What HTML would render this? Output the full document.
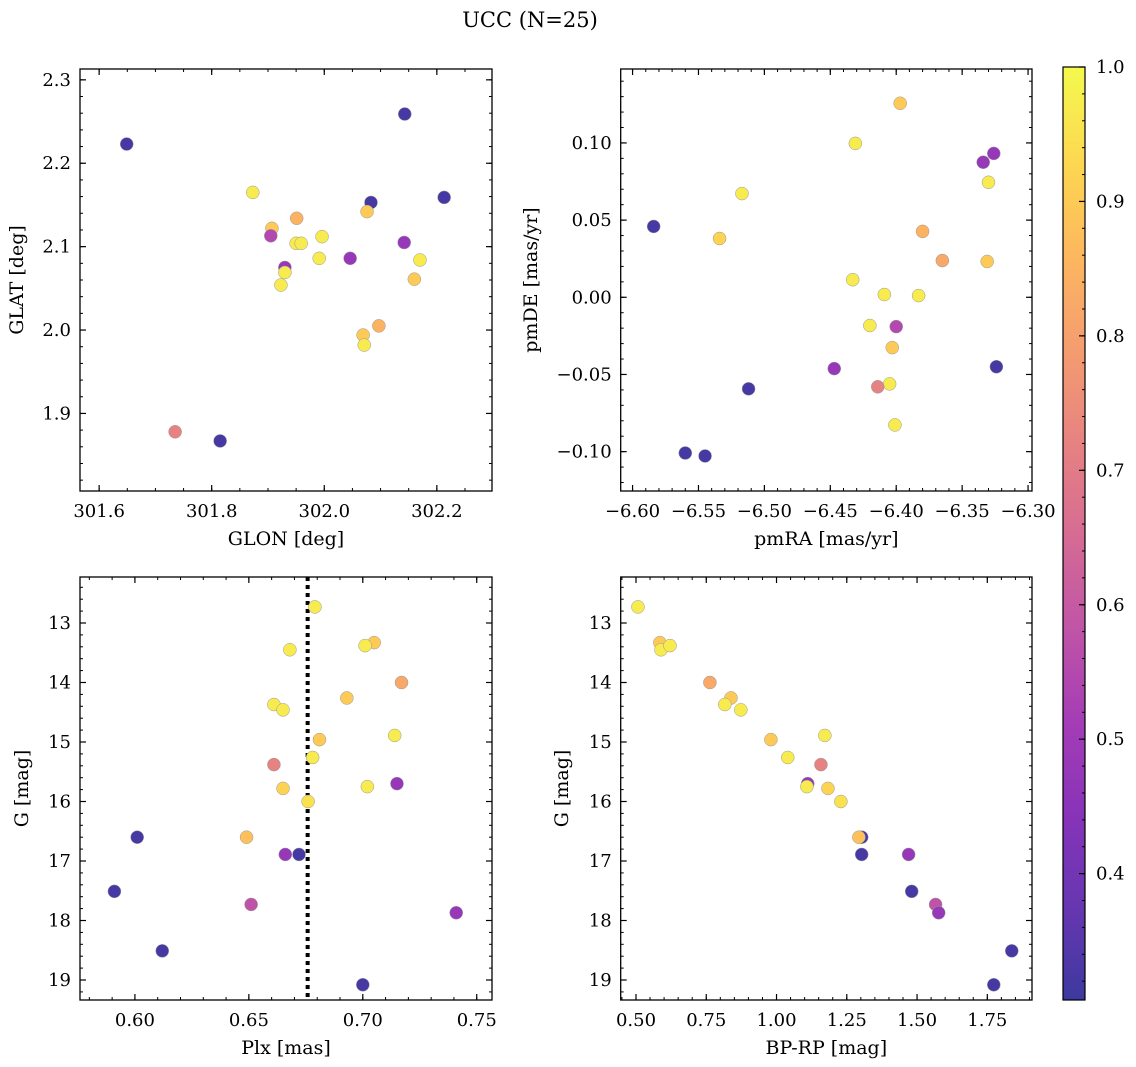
<!DOCTYPE html>
<html><head><meta charset="utf-8"><style>
html,body{margin:0;padding:0;background:#fff;}
svg{display:block;font-family:"DejaVu Serif","Liberation Serif",serif;}
</style></head><body>
<svg id="fig" width="1136" height="1067" viewBox="0 0 1136 1067" xmlns="http://www.w3.org/2000/svg">
<text x="530" y="27" font-size="21" text-anchor="middle">UCC (N=25)</text>
</svg>
<script>
// ---- data ----
const p1Glon=[301.649,302.143,301.735,301.815,301.873,301.907,301.905,301.930,301.930,301.923,301.951,301.950,301.959,301.991,301.996,302.046,302.083,302.076,302.213,302.142,302.170,302.160,302.069,302.071,302.097];
const p1Glat=[2.223,2.259,1.878,1.867,2.165,2.122,2.113,2.075,2.069,2.054,2.134,2.104,2.104,2.086,2.112,2.086,2.153,2.142,2.159,2.105,2.084,2.061,1.994,1.982,2.005];
const p1C=[0.32,0.32,0.72,0.32,0.97,0.9,0.55,0.48,0.97,0.97,0.85,0.97,0.97,0.97,0.97,0.48,0.32,0.9,0.32,0.48,0.97,0.9,0.9,0.97,0.85];
const p2Ra=[-6.584,-6.431,-6.397,-6.517,-6.534,-6.334,-6.326,-6.330,-6.380,-6.365,-6.331,-6.433,-6.409,-6.383,-6.420,-6.400,-6.403,-6.447,-6.324,-6.405,-6.414,-6.512,-6.401,-6.560,-6.545];
const p2De=[0.0459,0.0997,0.1257,0.0672,0.0381,0.0875,0.0932,0.0745,0.0427,0.0238,0.0232,0.0114,0.0018,0.0011,-0.0183,-0.0190,-0.0326,-0.0462,-0.0450,-0.0561,-0.0580,-0.0593,-0.0827,-0.1009,-0.1028];
const p2C=[0.32,0.97,0.9,0.97,0.92,0.48,0.48,0.97,0.85,0.82,0.9,0.97,0.97,0.97,0.97,0.55,0.9,0.48,0.32,0.97,0.72,0.32,0.97,0.32,0.32];
const p3Plx=[0.679,0.705,0.701,0.668,0.717,0.693,0.661,0.665,0.681,0.714,0.678,0.661,0.715,0.665,0.702,0.676,0.601,0.649,0.666,0.672,0.591,0.651,0.741,0.612,0.700];
const p3G=[12.73,13.33,13.38,13.45,14.00,14.26,14.37,14.46,14.96,14.89,15.26,15.38,15.70,15.78,15.75,16.00,16.60,16.60,16.89,16.89,17.51,17.73,17.87,18.51,19.08];
const p3C=[0.97,0.9,0.97,0.97,0.82,0.9,0.97,0.97,0.9,0.97,0.97,0.72,0.48,0.92,0.97,0.95,0.32,0.88,0.48,0.32,0.32,0.58,0.48,0.32,0.32];
const p4Bprp=[0.507,0.585,0.589,0.621,0.763,0.838,0.816,0.873,0.980,1.172,1.040,1.158,1.111,1.108,1.183,1.229,1.303,1.293,1.470,1.303,1.481,1.566,1.577,1.837,1.773];
const p4G=[12.73,13.33,13.45,13.38,14.00,14.26,14.37,14.46,14.96,14.89,15.26,15.38,15.70,15.75,15.78,16.00,16.60,16.60,16.89,16.89,17.51,17.73,17.87,18.51,19.08];
const p4C=[0.97,0.9,0.97,0.97,0.82,0.9,0.97,0.97,0.9,0.97,0.97,0.72,0.48,0.97,0.92,0.95,0.32,0.88,0.48,0.32,0.32,0.58,0.48,0.32,0.32];
const p1XTicks=[301.6,301.8,302.0,302.2];
const p1YTicks=[1.9,2.0,2.1,2.2,2.3];
const p2XTicks=[-6.60,-6.55,-6.50,-6.45,-6.40,-6.35,-6.30];
const p2YTicks=[-0.10,-0.05,0.00,0.05,0.10];
const p3XTicks=[0.60,0.65,0.70,0.75];
const gTicks=[13,14,15,16,17,18,19];
const p4XTicks=[0.50,0.75,1.00,1.25,1.50,1.75];
const cbTicks=[0.4,0.5,0.6,0.7,0.8,0.9,1.0];
const plxLine=0.6758;

const NS="http://www.w3.org/2000/svg";
const svg=document.getElementById('fig');
const TFS=18, LFS=19;
function mk(tag,attrs,parent){const e=document.createElementNS(NS,tag);for(const k in attrs)e.setAttribute(k,attrs[k]);(parent||svg).appendChild(e);return e;}
const stops=[[13,8,135],[65,4,157],[106,0,168],[143,13,164],[177,42,144],[204,71,120],[225,100,98],[242,132,75],[252,166,54],[252,206,37],[240,249,33]];
const CMIN=0.306,CMAX=1.0;
function cmap(v){let t=(v-CMIN)/(CMAX-CMIN);t=Math.max(0,Math.min(1,t));const f=t*10;const i=Math.min(9,Math.floor(f));const r=f-i;const a=stops[i],b=stops[i+1];
 const c=[0,1,2].map(k=>a[k]+(b[k]-a[k])*r);return `rgb(${c.map(x=>Math.round(x*0.8+255*0.2)).join(',')})`;}
function fmt(v,d){const s=Math.abs(v).toFixed(d);return (v<-1e-9?'−':'')+s;}

function panel(cfg){
 const {name,x0,x1,y0,y1,xmin,xmax,ymin,ymax,xt,yt,xminor,yminor,xd,yd,xs,ys,cs,xlabel,ylabel,ylx,inv}=cfg;
 const g=mk('g',{});
 
 
 const sx=v=>x0+(v-xmin)/(xmax-xmin)*(x1-x0);
 const sy=inv?(v=>y0+(v-ymin)/(ymax-ymin)*(y1-y0)):(v=>y1-(v-ymin)/(ymax-ymin)*(y1-y0));
 const lo=Math.ceil(xmin/xminor-1e-6),hi=Math.floor(xmax/xminor+1e-6);
 for(let i=lo;i<=hi;i++){const X=sx(i*xminor);mk('line',{x1:X,x2:X,y1:y1,y2:y1-3,stroke:'#000','stroke-width':1},g);mk('line',{x1:X,x2:X,y1:y0,y2:y0+3,stroke:'#000','stroke-width':1},g);}
 const ylo=Math.ceil(ymin/yminor-1e-6),yhi=Math.floor(ymax/yminor+1e-6);
 for(let i=ylo;i<=yhi;i++){const Y=sy(i*yminor);mk('line',{x1:x0,x2:x0+3,y1:Y,y2:Y,stroke:'#000','stroke-width':1},g);mk('line',{x1:x1,x2:x1-3,y1:Y,y2:Y,stroke:'#000','stroke-width':1},g);}
 xt.forEach(v=>{const X=sx(v);mk('line',{x1:X,x2:X,y1:y1,y2:y1-6,stroke:'#000','stroke-width':1.2},g);mk('line',{x1:X,x2:X,y1:y0,y2:y0+6,stroke:'#000','stroke-width':1.2},g);
  const t=mk('text',{x:X,y:y1+26,'font-size':TFS,'text-anchor':'middle'},g);t.textContent=fmt(v,xd);
  
  });
 yt.forEach(v=>{const Y=sy(v);mk('line',{x1:x0,x2:x0+6,y1:Y,y2:Y,stroke:'#000','stroke-width':1.2},g);mk('line',{x1:x1,x2:x1-6,y1:Y,y2:Y,stroke:'#000','stroke-width':1.2},g);
  const t=mk('text',{x:x0-9,y:Y+6,'font-size':TFS,'text-anchor':'end'},g);t.textContent=fmt(v,yd);
  
  });
 if(cfg.vline!==undefined){const X=sx(cfg.vline);const l=mk('line',{x1:X,x2:X,y1:y0,y2:y1,stroke:'#000','stroke-width':4,'stroke-dasharray':'4,4'},g);
  
  }
 xs.forEach((v,i)=>{const c=mk('circle',{cx:sx(v),cy:sy(ys[i]),r:6.5,fill:cmap(cs[i]),stroke:'#999','stroke-width':0.5},g);
  
  });
 const r=mk('rect',{x:x0,y:y0,width:x1-x0,height:y1-y0,fill:'none',stroke:'#000','stroke-width':1.3},g);
 
 
 const xl=mk('text',{x:(x0+x1)/2,y:y1+54,'font-size':LFS,'text-anchor':'middle'},g);xl.textContent=xlabel;
 
 
 const ym=(y0+y1)/2;const yl=mk('text',{x:ylx,y:ym,'font-size':LFS,'text-anchor':'middle',transform:`rotate(-90 ${ylx} ${ym})`},g);yl.textContent=ylabel;
 
 
}
panel({name:'glon-glat-panel',x0:80,x1:492,y0:69,y1:491,xmin:301.566,xmax:302.298,ymin:1.807,ymax:2.313,xt:p1XTicks,yt:p1YTicks,xminor:0.05,yminor:0.02,xd:1,yd:1,xs:p1Glon,ys:p1Glat,cs:p1C,xlabel:'GLON [deg]',ylabel:'GLAT [deg]',ylx:23});
panel({name:'pm-panel',x0:620.7,x1:1032,y0:69,y1:491,xmin:-6.609,xmax:-6.297,ymin:-0.1255,ymax:0.1479,xt:p2XTicks,yt:p2YTicks,xminor:0.01,yminor:0.01,xd:2,yd:2,xs:p2Ra,ys:p2De,cs:p2C,xlabel:'pmRA [mas/yr]',ylabel:'pmDE [mas/yr]',ylx:537});
panel({name:'plx-g-panel',x0:80,x1:492,y0:577,y1:1000,xmin:0.5759,xmax:0.7567,ymin:12.227,ymax:19.336,inv:true,xt:p3XTicks,yt:gTicks,xminor:0.01,yminor:0.2,xd:2,yd:0,xs:p3Plx,ys:p3G,cs:p3C,xlabel:'Plx [mas]',ylabel:'G [mag]',ylx:28,vline:plxLine});
panel({name:'cmd-panel',x0:620.7,x1:1032,y0:577,y1:1000,xmin:0.4456,xmax:1.909,ymin:12.227,ymax:19.336,inv:true,xt:p4XTicks,yt:gTicks,xminor:0.05,yminor:0.2,xd:2,yd:0,xs:p4Bprp,ys:p4G,cs:p4C,xlabel:'BP-RP [mag]',ylabel:'G [mag]',ylx:568});
(function(){
 const cx0=1063,cx1=1085,cy0=67,cy1=1000;
 const g=mk('g',{});
 
 
 const defs=mk('defs',{},g);const lg=mk('linearGradient',{id:'cbg',x1:0,y1:1,x2:0,y2:0},defs);
 for(let i=0;i<=20;i++){const v=CMIN+(CMAX-CMIN)*i/20;mk('stop',{offset:(i/20),'stop-color':cmap(v)},lg);}
 mk('rect',{x:cx0,y:cy0,width:cx1-cx0,height:cy1-cy0,fill:'url(#cbg)'},g);
 const sy=v=>cy1-(v-CMIN)/(CMAX-CMIN)*(cy1-cy0);
 for(let i=Math.ceil(CMIN/0.02);i<=50;i++){const Y=sy(i*0.02);mk('line',{x1:cx1,x2:cx1-3,y1:Y,y2:Y,stroke:'#000','stroke-width':1},g);}
 cbTicks.forEach(v=>{const Y=sy(v);mk('line',{x1:cx1,x2:cx1-6,y1:Y,y2:Y,stroke:'#000','stroke-width':1.2},g);
  const t=mk('text',{x:cx1+11,y:Y+6,'font-size':TFS},g);t.textContent=v.toFixed(1);
  
  });
 mk('rect',{x:cx0,y:cy0,width:cx1-cx0,height:cy1-cy0,fill:'none',stroke:'#000','stroke-width':1.2},g);
})();
</script>
</body></html>
